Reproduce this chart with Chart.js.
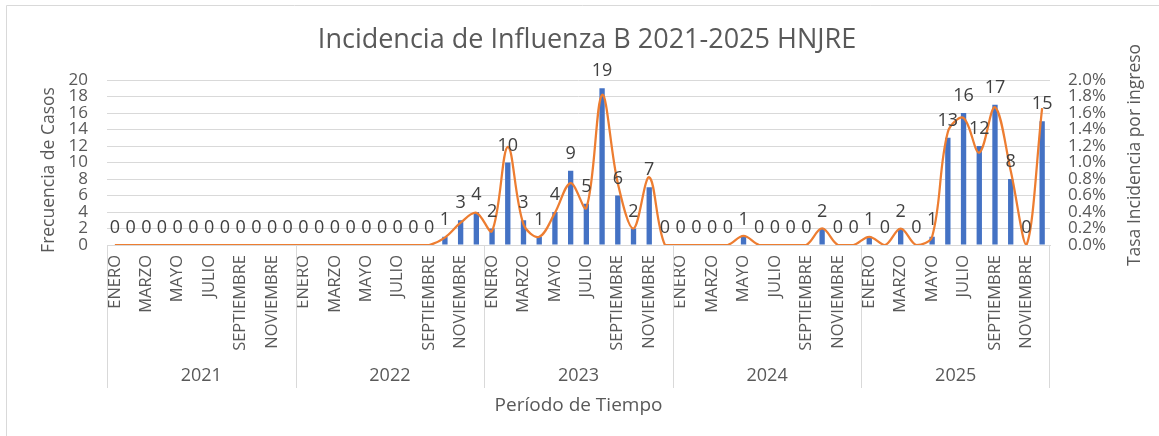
<!DOCTYPE html>
<html lang="es">
<head>
<meta charset="utf-8">
<title>Incidencia de Influenza B 2021-2025 HNJRE</title>
<script src="https://cdn.jsdelivr.net/npm/chart.js@4.4.1/dist/chart.umd.min.js"></script>
<style>
    html, body { margin: 0; padding: 0; background: #ffffff; }
    #wrap { position: relative; width: 1159px; height: 436px; }
</style>
</head>
<body>
<div id="wrap"><canvas id="influenzaChart" width="1159" height="436"></canvas></div>
<script>
// Years and months shown on the category axis
const years = ['2021', '2022', '2023', '2024', '2025'];
const months = ['ENERO', 'FEBRERO', 'MARZO', 'ABRIL', 'MAYO', 'JUNIO',
    'JULIO', 'AGOSTO', 'SEPTIEMBRE', 'OCTUBRE', 'NOVIEMBRE', 'DICIEMBRE'];

// Cases per month (left axis)
const casos2021 = [0, 0, 0, 0, 0, 0, 0, 0, 0, 0, 0, 0];
const casos2022 = [0, 0, 0, 0, 0, 0, 0, 0, 0, 1, 3, 4];
const casos2023 = [2, 10, 3, 1, 4, 9, 5, 19, 6, 2, 7, 0];
const casos2024 = [0, 0, 0, 0, 1, 0, 0, 0, 0, 2, 0, 0];
const casos2025 = [1, 0, 2, 0, 1, 13, 16, 12, 17, 8, 0, 15];

// Incidence rate per admission, in percent (right axis)
const tasa2021 = [0, 0, 0, 0, 0, 0, 0, 0, 0, 0, 0, 0];
const tasa2022 = [0, 0, 0, 0, 0, 0, 0, 0, 0, 0.09, 0.27, 0.39];
const tasa2023 = [0.17, 1.19, 0.25, 0.1, 0.39, 0.75, 0.45, 1.82, 0.75, 0.2, 0.82, 0];
const tasa2024 = [0, 0, 0, 0, 0.11, 0, 0, 0, 0, 0.2, 0, 0];
const tasa2025 = [0.1, 0, 0.2, 0, 0.1, 1.37, 1.54, 1.12, 1.67, 0.9, 0, 1.66];

// Tick labels
const casosTicks = [0, 2, 4, 6, 8, 10, 12, 14, 16, 18, 20];
const tasaTicks = [0, 0.2, 0.4, 0.6, 0.8, 1.0, 1.2, 1.4, 1.6, 1.8, 2.0];

const FONT = '"Open Sans", "Noto Sans", sans-serif';
const TEXT_COLOR = '#595959';
const GRID_COLOR = '#d9d9d9';

const labels = [];
years.forEach(() => months.forEach(m => labels.push(m)));
const casos = [].concat(casos2021, casos2022, casos2023, casos2024, casos2025);
const tasa = [].concat(tasa2021, tasa2022, tasa2023, tasa2024, tasa2025);

/**
 * Frame, titles, year groups and bar value labels
 */
const excelLook = {
    id: 'excelLook',
    beforeDraw(chart) {
        const ctx = chart.ctx;
        ctx.save();
        ctx.strokeStyle = GRID_COLOR;
        ctx.lineWidth = 1;
        ctx.beginPath();
        ctx.moveTo(6.5, 436);
        ctx.lineTo(6.5, 5.5);
        ctx.lineTo(1159, 5.5);
        ctx.stroke();
        ctx.restore();
    },
    afterDraw(chart) {
        const ctx = chart.ctx;
        const x = chart.scales.x;
        const area = chart.chartArea;

        ctx.save();
        // Title
        ctx.fillStyle = TEXT_COLOR;
        ctx.font = '27px ' + FONT;
        ctx.textAlign = 'center';
        ctx.textBaseline = 'middle';
        ctx.fillText('Incidencia de Influenza B 2021-2025 HNJRE', 587, 40);

        // Axis titles
        ctx.font = '17.5px ' + FONT;
        ctx.save();
        ctx.translate(49, 170);
        ctx.rotate(-Math.PI / 2);
        ctx.fillText('Frecuencia de Casos', 0, 0);
        ctx.restore();
        ctx.save();
        ctx.translate(1135, 155);
        ctx.rotate(-Math.PI / 2);
        ctx.fillText('Tasa Incidencia por ingreso', 0, 0);
        ctx.restore();

        // Year separators and labels
        ctx.strokeStyle = GRID_COLOR;
        ctx.lineWidth = 1;
        ctx.font = '18px ' + FONT;
        const half = (x.getPixelForValue(1) - x.getPixelForValue(0)) / 2;
        years.forEach((year, k) => {
            const first = x.getPixelForValue(k * 12);
            const last = x.getPixelForValue(k * 12 + 11);
            const edge = Math.round(first - half) + 0.5;
            ctx.beginPath();
            ctx.moveTo(edge, area.bottom);
            ctx.lineTo(edge, 388);
            ctx.stroke();
            if (k === years.length - 1) {
                const end = Math.round(last + half) - 0.5;
                ctx.beginPath();
                ctx.moveTo(end, area.bottom);
                ctx.lineTo(end, 388);
                ctx.stroke();
            }
            ctx.fillText(year, (first + last) / 2, 376);
        });

        // Value labels over the bars
        const meta = chart.getDatasetMeta(0);
        ctx.fillStyle = '#404040';
        ctx.font = '18px ' + FONT;
        meta.data.forEach((bar, i) => {
            ctx.fillText(String(casos[i]), bar.x, bar.y - 17);
        });
        ctx.restore();
    }
};

/**
 * Build the combined bar + line chart
 */
function initChart() {
    const ctx = document.getElementById('influenzaChart').getContext('2d');

    new Chart(ctx, {
        type: 'bar',
        data: {
            labels: labels,
            datasets: [{
                label: 'Frecuencia de Casos',
                data: casos,
                backgroundColor: '#4472C4',
                barPercentage: 0.34,
                categoryPercentage: 1,
                yAxisID: 'y',
                order: 2
            }, {
                type: 'line',
                label: 'Tasa Incidencia por ingreso',
                data: tasa,
                borderColor: '#ED7D31',
                borderWidth: 2.25,
                pointRadius: 0,
                tension: 0.35,
                fill: false,
                yAxisID: 'y1',
                order: 1
            }]
        },
        options: {
            responsive: false,
            animation: false,
            layout: { padding: { top: 80, left: 0, right: 0, bottom: 0 } },
            plugins: {
                legend: { display: false },
                title: { display: false },
                tooltip: { enabled: false }
            },
            scales: {
                x: {
                    grid: { display: false, drawTicks: false },
                    border: { display: true, color: GRID_COLOR, width: 1 },
                    ticks: {
                        autoSkip: false,
                        maxRotation: 90,
                        minRotation: 90,
                        padding: 10,
                        color: TEXT_COLOR,
                        font: { family: FONT, size: 16.5 },
                        callback: (value, index) => index % 2 === 0 ? labels[index] : ''
                    },
                    title: {
                        display: true,
                        text: 'Período de Tiempo',
                        color: TEXT_COLOR,
                        font: { family: FONT, size: 19 },
                        padding: { top: 0, bottom: 19 }
                    },
                    afterFit: scale => { scale.height = 191; }
                },
                y: {
                    position: 'left',
                    min: casosTicks[0],
                    max: casosTicks[casosTicks.length - 1],
                    grid: { color: GRID_COLOR, drawTicks: false },
                    border: { display: false },
                    ticks: {
                        autoSkip: false,
                        stepSize: casosTicks[1] - casosTicks[0],
                        padding: 19,
                        color: TEXT_COLOR,
                        font: { family: FONT, size: 17, lineHeight: 1 }
                    },
                    afterFit: scale => { scale.width = 107; }
                },
                y1: {
                    position: 'right',
                    min: tasaTicks[0],
                    max: tasaTicks[tasaTicks.length - 1],
                    grid: { drawOnChartArea: false, drawTicks: false },
                    border: { display: false },
                    ticks: {
                        autoSkip: false,
                        stepSize: tasaTicks[1] - tasaTicks[0],
                        padding: 18,
                        color: TEXT_COLOR,
                        font: { family: FONT, size: 17, lineHeight: 1 },
                        callback: value => value.toFixed(1) + '%'
                    },
                    afterFit: scale => { scale.width = 109; }
                }
            }
        },
        plugins: [excelLook]
    });
}

document.addEventListener('DOMContentLoaded', initChart);
</script>
</body>
</html>
